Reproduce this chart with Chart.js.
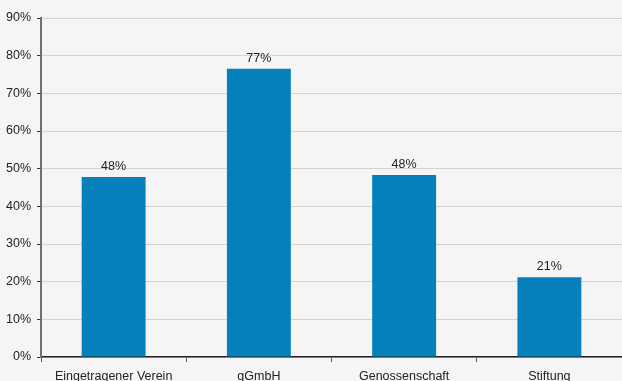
<!DOCTYPE html>
<html>
<head>
<meta charset="utf-8">
<script src="https://cdn.jsdelivr.net/npm/chart.js@4"></script>
<style>
    body {
        margin: 0;
        background-color: #f5f5f5;
    }

    .chart_box {
        width: 622px;
        height: 381px;
        position: relative;
    }
</style>
</head>
<body>
<div class="chart_box">
    <canvas id="myChart"></canvas>
</div>
<script>
let categories = ['Eingetragener Verein', 'gGmbH', 'Genossenschaft', 'Stiftung'];
let shareValues = [47.8, 76.5, 48.3, 21.2];
let shareLabels = ['48%', '77%', '48%', '21%'];
let yTicks = [0, 10, 20, 30, 40, 50, 60, 70, 80, 90];

// schreibt die Prozentwerte über die Balken
const valueLabels = {
    id: 'valueLabels',
    afterDatasetsDraw(chart) {
        let ctx = chart.ctx;
        let meta = chart.getDatasetMeta(0);
        ctx.save();
        ctx.font = '12.5px "Liberation Sans", Arial, sans-serif';
        ctx.fillStyle = '#222222';
        ctx.textAlign = 'center';
        ctx.textBaseline = 'alphabetic';
        for (let i = 0; i < meta.data.length; i++) {
            let bar = meta.data[i];
            ctx.fillText(shareLabels[i], bar.x, bar.y - 7);
        }
        ctx.restore();
    }
};

function createChart() {
    const ctx = document.getElementById('myChart');

    new Chart(ctx, {
        type: 'bar',
        data: {
            labels: categories,
            datasets: [{
                data: shareValues,
                backgroundColor: '#0580BA',
                barPercentage: 0.88,
                categoryPercentage: 0.5
            }]
        },
        options: {
            responsive: true,
            maintainAspectRatio: false,
            animation: false,
            layout: {
                padding: { top: 18, right: 0, left: 0, bottom: 0 }
            },
            plugins: {
                legend: { display: false },
                tooltip: { enabled: false }
            },
            scales: {
                x: {
                    grid: {
                        display: true,
                        drawOnChartArea: false,
                        tickLength: 5,
                        tickColor: '#555555',
                        lineWidth: 1
                    },
                    border: {
                        color: '#222222',
                        width: 1.5
                    },
                    ticks: {
                        color: '#222222',
                        padding: 7,
                        maxRotation: 0,
                        autoSkip: false,
                        font: { family: '"Liberation Sans", Arial, sans-serif', size: 12.5 }
                    },
                    afterFit(scale) {
                        scale.height = 24;
                    }
                },
                y: {
                    min: 0,
                    max: 90,
                    afterBuildTicks(scale) {
                        scale.ticks = yTicks.map(v => ({ value: v }));
                    },
                    grid: {
                        color: '#d3d3d3',
                        lineWidth: 1,
                        tickLength: 4,
                        tickColor: '#333333'
                    },
                    border: {
                        color: '#707070',
                        width: 2
                    },
                    ticks: {
                        color: '#222222',
                        padding: 6,
                        callback: (v) => v + '%',
                        font: { family: '"Liberation Sans", Arial, sans-serif', size: 12.5 }
                    },
                    afterFit(scale) {
                        scale.width = 41;
                    }
                }
            }
        },
        plugins: [valueLabels]
    });
}

createChart();
</script>
</body>
</html>
